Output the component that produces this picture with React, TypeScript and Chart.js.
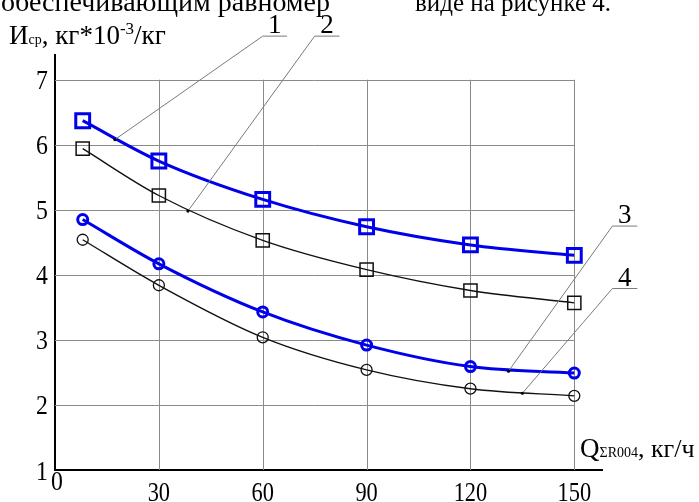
import { useEffect, useRef } from 'react';
import { Chart, registerables } from 'chart.js';

Chart.register(...registerables);

// ---- data ----
const xValues = [8, 30, 60, 90, 120, 150];
const series1 = [6.37, 5.75, 5.16, 4.74, 4.46, 4.3];
const series2 = [5.94, 5.22, 4.53, 4.08, 3.76, 3.57];
const series3 = [4.85, 4.17, 3.43, 2.92, 2.59, 2.49];
const series4 = [4.54, 3.84, 3.04, 2.54, 2.25, 2.14];

const xTicks = [0, 30, 60, 90, 120, 150];
const yTicks = [1, 2, 3, 4, 5, 6, 7];
const xGrid = [30, 60, 90, 120, 150];
const yGrid = [2, 3, 4, 5, 6, 7];

// leader annotations (data units)
const leaderLabels = ['1', '2', '3', '4'];
const leaderAnchorX = [17.3, 38.4, 131, 135];
const leaderAnchorY = [6.08, 4.98, 2.52, 2.18];
const leaderBendX = [60, 75, 161, 161];
const leaderBendY = [7.67, 7.67, 4.75, 3.79];
const leaderEndX = [67, 82.2, 168.2, 168.2];

const SERIF = "'Liberation Serif', 'Times New Roman', serif";
const BLUE = 'rgb(0,0,235)';

export default function App() {
  const ref = useRef<HTMLCanvasElement>(null);

  useEffect(() => {
    document.body.style.margin = '0';
    const canvas = ref.current!;

    const pts = (ys: number[]) => xValues.map((x, i) => ({ x, y: ys[i] }));

    const narrow = (ctx: CanvasRenderingContext2D, t: string, x: number, y: number, k: number) => {
      const w = ctx.measureText(t).width;
      ctx.fillText(t, x, y, w * k);
    };

    const overlay = {
      id: 'overlay',
      beforeDatasetsDraw(chart: any) {
        const { ctx, scales } = chart;
        const xs = scales.x, ys = scales.y;
        ctx.save();
        ctx.strokeStyle = '#8a8a8a';
        ctx.lineWidth = 1;
        ctx.beginPath();
        for (const gx of xGrid) {
          const px = Math.round(xs.getPixelForValue(gx)) + 0.5;
          ctx.moveTo(px, ys.getPixelForValue(1));
          ctx.lineTo(px, ys.getPixelForValue(7));
        }
        for (const gy of yGrid) {
          const py = Math.round(ys.getPixelForValue(gy)) + 0.5;
          ctx.moveTo(xs.getPixelForValue(0), py);
          ctx.lineTo(xs.getPixelForValue(150), py);
        }
        ctx.stroke();
        ctx.restore();
      },
      afterDatasetsDraw(chart: any) {
        const { ctx, scales } = chart;
        const xs = scales.x, ys = scales.y;
        ctx.save();
        ctx.fillStyle = '#000';

        // tick labels (values from the scales' ticks)
        ctx.font = `28px ${SERIF}`;
        ctx.textBaseline = 'alphabetic';
        ctx.textAlign = 'right';
        for (const t of ys.ticks) {
          narrow(ctx, String(t.value), 48, ys.getPixelForValue(t.value) + 9.5, 0.85);
        }
        ctx.textAlign = 'center';
        for (const t of xs.ticks) {
          const px = xs.getPixelForValue(t.value);
          if (t.value === 0) narrow(ctx, '0', px + 2, 490, 0.85);
          else narrow(ctx, String(t.value), px, 501, 0.8);
        }

        // leaders
        ctx.strokeStyle = '#7a7a7a';
        ctx.lineWidth = 1;
        ctx.font = `27px ${SERIF}`;
        for (let i = 0; i < leaderLabels.length; i++) {
          const ax = xs.getPixelForValue(leaderAnchorX[i]);
          const ay = ys.getPixelForValue(leaderAnchorY[i]);
          const bx = xs.getPixelForValue(leaderBendX[i]);
          const by = ys.getPixelForValue(leaderBendY[i]);
          const ex = xs.getPixelForValue(leaderEndX[i]);
          ctx.beginPath();
          ctx.moveTo(ax, ay);
          ctx.lineTo(bx, by);
          ctx.lineTo(ex, by);
          ctx.stroke();
          ctx.beginPath();
          ctx.arc(ax, ay, 1.6, 0, Math.PI * 2);
          ctx.fill();
          ctx.textAlign = 'center';
          ctx.fillText(leaderLabels[i], (bx + ex) / 2, by - 3);
        }

        // y-axis title
        let x = 9;
        const yb = 44;
        ctx.textAlign = 'left';
        const seg = (t: string, size: number, dy: number) => {
          ctx.font = `${size}px ${SERIF}`;
          ctx.fillText(t, x, yb + dy);
          x += ctx.measureText(t).width;
        };
        seg('И', 27, 0);
        seg('ср', 14, 0);
        seg(', кг*10', 27, 0);
        seg('-3', 17, -10);
        seg('/кг', 27, 0);

        // x-axis title
        x = 580;
        const xb = 457;
        const seg2 = (t: string, size: number) => {
          ctx.font = `${size}px ${SERIF}`;
          ctx.fillText(t, x, xb);
          x += ctx.measureText(t).width;
        };
        seg2('Q', 27);
        seg2('ΣR004', 14);
        seg2(', кг/ч', 26);

        // cropped text line at the top
        ctx.font = `28px ${SERIF}`;
        ctx.textAlign = 'right';
        ctx.fillText('обеспечивающим равномер', 330, 11);
        ctx.font = `25px ${SERIF}`;
        ctx.textAlign = 'left';
        ctx.fillText('виде на рисунке 4.', 415, 11);
        ctx.restore();
      },
    };

    const chart = new Chart(canvas, {
      type: 'line',
      data: {
        datasets: [
          {
            data: pts(series1),
            borderColor: BLUE,
            borderWidth: 3,
            pointStyle: 'rect',
            pointRadius: 9.8,
            pointBorderWidth: 3,
            pointBorderColor: BLUE,
            pointBackgroundColor: 'rgba(0,0,0,0)',
            cubicInterpolationMode: 'monotone',
            fill: false,
          },
          {
            data: pts(series2),
            borderColor: '#111',
            borderWidth: 1.4,
            pointStyle: 'rect',
            pointRadius: 9.3,
            pointBorderWidth: 1.5,
            pointBorderColor: '#111',
            pointBackgroundColor: 'rgba(0,0,0,0)',
            cubicInterpolationMode: 'monotone',
            fill: false,
          },
          {
            data: pts(series3),
            borderColor: BLUE,
            borderWidth: 3,
            pointStyle: 'circle',
            pointRadius: 5,
            pointBorderWidth: 3,
            pointBorderColor: BLUE,
            pointBackgroundColor: 'rgba(0,0,0,0)',
            cubicInterpolationMode: 'monotone',
            fill: false,
          },
          {
            data: pts(series4),
            borderColor: '#111',
            borderWidth: 1.4,
            pointStyle: 'circle',
            pointRadius: 5.5,
            pointBorderWidth: 1.3,
            pointBorderColor: '#111',
            pointBackgroundColor: 'rgba(0,0,0,0)',
            cubicInterpolationMode: 'monotone',
            fill: false,
          },
        ],
      },
      options: {
        responsive: false,
        animation: false,
        events: [],
        layout: { padding: { top: 55, right: 97, left: 0, bottom: 0 } },
        plugins: { legend: { display: false }, tooltip: { enabled: false }, title: { display: false } },
        scales: {
          x: {
            type: 'linear',
            min: 0,
            max: 158,
            grid: { display: false, drawTicks: false },
            border: { display: true, color: '#000', width: 2 },
            ticks: { display: false },
            afterBuildTicks: (s: any) => {
              s.ticks = xTicks.map((v) => ({ value: v }));
            },
            afterFit: (s: any) => {
              s.height = 32;
            },
          },
          y: {
            type: 'linear',
            min: 1,
            max: 7.38,
            grid: { display: false, drawTicks: false },
            border: { display: true, color: '#000', width: 2 },
            ticks: { display: false },
            afterBuildTicks: (s: any) => {
              s.ticks = yTicks.map((v) => ({ value: v }));
            },
            afterFit: (s: any) => {
              s.width = 55;
            },
          },
        },
      },
      plugins: [overlay],
    } as any);

    return () => chart.destroy();
  }, []);

  return <canvas ref={ref} width={699} height={502} style={{ display: 'block' }} />;
}
